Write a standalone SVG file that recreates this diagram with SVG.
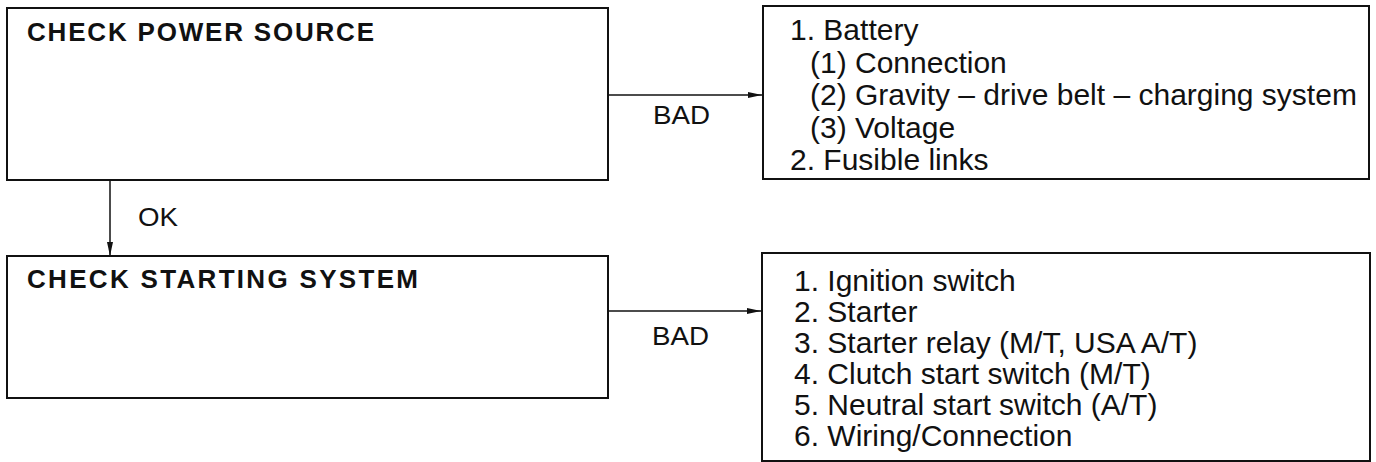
<svg xmlns="http://www.w3.org/2000/svg" width="1376" height="462" viewBox="0 0 1376 462">
<style>
.box{fill:#fff;stroke:#111;stroke-width:2}
.title{font-family:"Liberation Sans",Arial,sans-serif;font-weight:bold;font-size:26px;fill:#111}
.item{font-family:"Liberation Sans",Arial,sans-serif;font-size:30px;fill:#111}
.lbl{font-family:"Liberation Sans",Arial,sans-serif;font-size:26px;fill:#111}
.conn{stroke:#111;stroke-width:1.5;fill:none}
</style>
<defs>
<marker id="arr" viewBox="0 0 14 6" refX="14" refY="3" markerWidth="14" markerHeight="6" markerUnits="userSpaceOnUse" orient="auto">
<path d="M0,0 L14,3 L0,6 Z" fill="#111"/>
</marker>
</defs>
<rect width="1376" height="462" fill="#fff"/>
<g id="connectors">
<line class="conn" x1="608" y1="95" x2="762" y2="95" marker-end="url(#arr)"/>
<text class="lbl" x="653" y="124" textLength="57" lengthAdjust="spacingAndGlyphs">BAD</text>
<line class="conn" x1="110" y1="181" x2="110" y2="256" marker-end="url(#arr)"/>
<text class="lbl" x="138" y="226" textLength="40" lengthAdjust="spacingAndGlyphs">OK</text>
<line class="conn" x1="608" y1="311" x2="761" y2="311" marker-end="url(#arr)"/>
<text class="lbl" x="652" y="345" textLength="57" lengthAdjust="spacingAndGlyphs">BAD</text>
</g>
<g id="check-power">
<rect class="box" x="7" y="8" width="601" height="172"/>
<text class="title" x="27" y="41" textLength="347" lengthAdjust="spacing">CHECK  POWER  SOURCE</text>
</g>
<g id="check-starting">
<rect class="box" x="7" y="256" width="601" height="142"/>
<text class="title" x="27" y="288" textLength="391" lengthAdjust="spacing">CHECK  STARTING  SYSTEM</text>
</g>
<g id="power-causes">
<rect class="box" x="763" y="6" width="606" height="173"/>
<text class="item" x="790" y="40">1. Battery</text>
<text class="item" x="810" y="72.5">(1) Connection</text>
<text class="item" x="810" y="105">(2) Gravity – drive belt – charging system</text>
<text class="item" x="810" y="137.5">(3) Voltage</text>
<text class="item" x="790" y="170">2. Fusible links</text>
</g>
<g id="starting-causes">
<rect class="box" x="762" y="253" width="608" height="208"/>
<text class="item" x="794" y="291">1. Ignition switch</text>
<text class="item" x="794" y="322">2. Starter</text>
<text class="item" x="794" y="353">3. Starter relay (M/T, USA A/T)</text>
<text class="item" x="794" y="384">4. Clutch start switch (M/T)</text>
<text class="item" x="794" y="415">5. Neutral start switch (A/T)</text>
<text class="item" x="794" y="446">6. Wiring/Connection</text>
</g>
</svg>
